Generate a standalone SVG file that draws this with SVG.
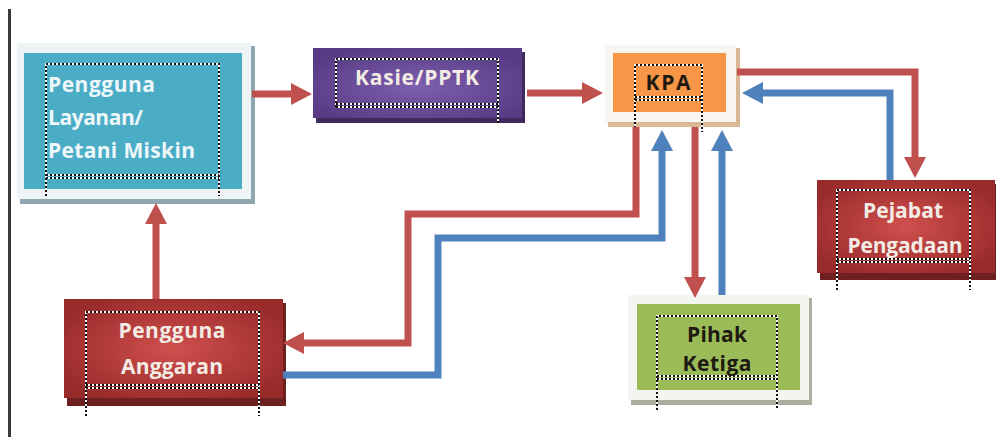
<svg xmlns="http://www.w3.org/2000/svg" width="996" height="437" viewBox="0 0 996 437">
<defs>
<radialGradient id="gRed" cx="50%" cy="50%" r="60%">
<stop offset="0" stop-color="#d0504e"/>
<stop offset="1" stop-color="#982a2a"/>
</radialGradient>
<radialGradient id="gPur" cx="50%" cy="55%" r="60%">
<stop offset="0" stop-color="#7e5fae"/>
<stop offset="1" stop-color="#583b84"/>
</radialGradient>
<marker id="hr" viewBox="0 0 21 22" refX="0" refY="11" markerWidth="21" markerHeight="22" markerUnits="userSpaceOnUse" orient="auto">
<path d="M0,0 L21,11 L0,22 z" fill="#c0504d"/>
</marker>
<marker id="hb" viewBox="0 0 21 22" refX="0" refY="11" markerWidth="21" markerHeight="22" markerUnits="userSpaceOnUse" orient="auto">
<path d="M0,0 L21,11 L0,22 z" fill="#4f81bd"/>
</marker>
</defs>
<style>
.t{font-family:"Open Sans","Liberation Sans",sans-serif;font-weight:bold;font-size:21px}
.lt{fill:#f3ece4}
.dk{fill:#1e1a12}
.dw{fill:none;stroke:#ffffff;stroke-width:2}
.db{fill:none;stroke:#111;stroke-width:2;stroke-dasharray:2 2}
.r{fill:none;stroke:#c0504d;stroke-width:7;marker-end:url(#hr)}
.b{fill:none;stroke:#4f81bd;stroke-width:7;marker-end:url(#hb)}
</style>
<rect width="996" height="437" fill="#ffffff"/>
<line x1="9.5" y1="9" x2="9.5" y2="437" stroke="#3a3a3a" stroke-width="3"/>

<g id="pengguna-layanan">
<rect x="20" y="46" width="235" height="158" fill="#8fa8b0"/>
<rect x="17" y="43" width="234" height="156" fill="#eef3f5"/>
<rect x="24" y="53" width="218" height="136" fill="#4bacc6"/>
<g>
<path class="dw" d="M46 196 V64 H219 V196 M46 175 H219 M46 178 H219"/>
<path class="db" d="M46 196 V64 H219 V196 M46 175 H219 M46 178 H219"/>
</g>
<text class="t" x="48" y="92" fill="#eef7fa" textLength="107" lengthAdjust="spacing">Pengguna</text>
<text class="t" x="48" y="125" fill="#eef7fa" textLength="95" lengthAdjust="spacing">Layanan/</text>
<text class="t" x="48" y="158" fill="#eef7fa" textLength="147" lengthAdjust="spacing">Petani Miskin</text>
</g>

<g id="kasie-pptk">
<rect x="316" y="52" width="209" height="71" fill="#3f2a60"/>
<rect x="313" y="48" width="209" height="70" fill="url(#gPur)"/>
<g>
<path class="dw" d="M336 107 V59 H498 V125 M336 104 H498 M336 107 H498"/>
<path class="db" d="M336 107 V59 H498 V125 M336 104 H498 M336 107 H498"/>
</g>
<text class="t lt" x="417" y="85" text-anchor="middle" textLength="124" lengthAdjust="spacing">Kasie/PPTK</text>
</g>

<g id="kpa">
<rect x="608" y="48" width="132" height="79" fill="#d9b896"/>
<rect x="605" y="45" width="131" height="77" fill="#f8f4f0"/>
<rect x="613" y="53" width="113" height="59" fill="#f79646"/>
<g>
<path class="dw" d="M635 132 V65 H702 V132 M635 97 H702 M635 100 H702"/>
<path class="db" d="M635 132 V65 H702 V132 M635 97 H702 M635 100 H702"/>
</g>
<text class="t dk" x="668" y="90" text-anchor="middle" textLength="45" lengthAdjust="spacing">KPA</text>
</g>

<g id="pejabat-pengadaan">
<rect x="820" y="184" width="176" height="96" fill="#6e1f1f"/>
<rect x="817" y="180" width="178" height="93" fill="url(#gRed)"/>
<g>
<path class="dw" d="M837 290 V190 H970 V290 M837 259 H970 M837 262 H970"/>
<path class="db" d="M837 290 V190 H970 V290 M837 259 H970 M837 262 H970"/>
</g>
<text class="t lt" x="903" y="218" text-anchor="middle" textLength="80" lengthAdjust="spacing">Pejabat</text>
<text class="t lt" x="905" y="253" text-anchor="middle" textLength="115" lengthAdjust="spacing">Pengadaan</text>
</g>

<g id="pengguna-anggaran">
<rect x="67" y="303" width="219" height="103" fill="#6e1f1f"/>
<rect x="64" y="299" width="219" height="99" fill="url(#gRed)"/>
<g>
<path class="dw" d="M86 416 V312 H259 V416 M86 385 H259 M86 388 H259"/>
<path class="db" d="M86 416 V312 H259 V416 M86 385 H259 M86 388 H259"/>
</g>
<text class="t lt" x="172" y="338" text-anchor="middle" textLength="107" lengthAdjust="spacing">Pengguna</text>
<text class="t lt" x="172" y="374" text-anchor="middle" textLength="102" lengthAdjust="spacing">Anggaran</text>
</g>

<g id="pihak-ketiga">
<rect x="631" y="298" width="181" height="107" fill="#a9b0a0"/>
<rect x="628" y="295" width="181" height="105" fill="#f3f5f0"/>
<rect x="637" y="304" width="163" height="86" fill="#9bbb59"/>
<g>
<path class="dw" d="M657 410 V316 H777 V410 M657 376 H777 M657 379 H777"/>
<path class="db" d="M657 410 V316 H777 V410 M657 376 H777 M657 379 H777"/>
</g>
<text class="t dk" x="717" y="342" text-anchor="middle" textLength="60" lengthAdjust="spacing">Pihak</text>
<text class="t dk" x="717" y="371" text-anchor="middle" textLength="69" lengthAdjust="spacing">Ketiga</text>
</g>

<g id="connectors">
<path class="r" d="M252 94 H291"/>
<path class="r" d="M527 93 H582"/>
<path class="r" d="M737 72 H915 V157"/>
<path class="r" d="M636 127 V214 H408 V343 H304"/>
<path class="r" d="M695 127 V277"/>
<path class="r" d="M156 299 V224"/>
<path class="b" d="M890 180 V93 H763"/>
<path class="b" d="M283 375 H438 V238 H662 V151"/>
<path class="b" d="M722 295 V151"/>
</g>
</svg>
